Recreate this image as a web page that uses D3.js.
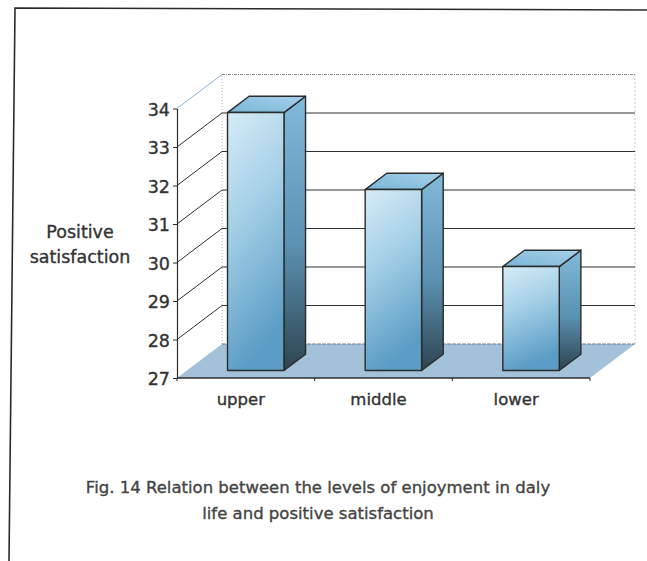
<!DOCTYPE html>
<html>
<head>
<meta charset="utf-8">
<script src="https://cdn.jsdelivr.net/npm/d3@7/dist/d3.min.js"></script>
<style>
  html, body { margin: 0; padding: 0; background: #fff; }
  svg { display: block; }
  text { font-family: "DejaVu Sans", Verdana, sans-serif; fill: #333; stroke: #333; stroke-width: 0.35px; }
</style>
</head>
<body>
<svg id="chart" width="647" height="561"></svg>
<script>
// Mean positive satisfaction by level of enjoyment in daily life
const categories = ["upper", "middle", "lower"];
const values = [33.7, 31.7, 29.7];
const yTicks = [27, 28, 29, 30, 31, 32, 33, 34];
const yTitle = ["Positive", "satisfaction"];
const caption = [
  "Fig. 14 Relation between the levels of enjoyment in daly",
  "life and positive satisfaction"
];

const svg = d3.select("#chart");

// Front plane scales; depth is projected as an oblique offset
const x = d3.scaleBand().domain(categories).range([177, 590]).paddingInner(0).paddingOuter(0);
const y = d3.scaleLinear().domain([27, 34]).range([378, 108.5]);
const depthDX = 45, depthDY = -34;
const proj = (px, v, d) => [px + d * depthDX, y(v) + d * depthDY];

const barWidthFrac = 0.41;
const barD0 = 0.22, barD1 = 0.70;

const defs = svg.append("defs");
const gradFront = defs.append("linearGradient").attr("id", "gFront")
  .attr("x1", 0).attr("y1", 0).attr("x2", 0.25).attr("y2", 1);
gradFront.append("stop").attr("offset", 0).attr("stop-color", "#d6ecf7");
gradFront.append("stop").attr("offset", 0.45).attr("stop-color", "#a3cfe6");
gradFront.append("stop").attr("offset", 1).attr("stop-color", "#5c9dc5");
const gradSide = defs.append("linearGradient").attr("id", "gSide")
  .attr("x1", 0).attr("y1", 0).attr("x2", 0).attr("y2", 1);
gradSide.append("stop").attr("offset", 0).attr("stop-color", "#82bad9");
gradSide.append("stop").attr("offset", 0.55).attr("stop-color", "#5a90b0");
gradSide.append("stop").attr("offset", 1).attr("stop-color", "#2e4450");
const gradTop = defs.append("linearGradient").attr("id", "gTop")
  .attr("x1", 0).attr("y1", 1).attr("x2", 1).attr("y2", 0);
gradTop.append("stop").attr("offset", 0).attr("stop-color", "#78b5d8");
gradTop.append("stop").attr("offset", 1).attr("stop-color", "#a6d1e9");

// Outer frame
svg.append("path")
  .attr("d", "M647,10 L15,8 L9,561")
  .attr("fill", "none").attr("stroke", "#2a2a2a").attr("stroke-width", 1.6);

const x0 = x.range()[0], x1 = x.range()[1];
const line = d3.line();

// Floor
const floorPts = [proj(x0, 27, 0), proj(x1, 27, 0), proj(x1, 27, 1), proj(x0, 27, 1)];
svg.append("path").attr("d", line(floorPts) + "Z").attr("fill", "#a3c2d9");

// Back wall and side wall outline (faint)
svg.append("path")
  .attr("d", line([proj(x0, 27, 1), proj(x0, 34, 1)]))
  .attr("stroke", "#b8b8b8").attr("stroke-dasharray", "1,2").attr("fill", "none");
svg.append("path")
  .attr("d", line([proj(x1, 27, 1), proj(x1, 34, 1)]))
  .attr("stroke", "#b9c9dc").attr("stroke-dasharray", "2,2").attr("fill", "none");
svg.append("path")
  .attr("d", line([proj(x0, 34, 1), proj(x1, 34, 1)]))
  .attr("stroke", "#8a8a8a").attr("stroke-dasharray", "3,1,1,1").attr("fill", "none");
svg.append("path")
  .attr("d", line([proj(x0, 34, 0), proj(x0, 34, 1)]))
  .attr("stroke", "#8fb6d6").attr("fill", "none");

// Gridlines: side-wall diagonals and back-wall horizontals
const gridVals = yTicks.filter(v => v > 27 && v < 34);
svg.append("g").selectAll("path").data(gridVals).join("path")
  .attr("d", v => line([proj(x0, v, 0), proj(x0, v, 1), proj(x1, v, 1)]))
  .attr("fill", "none").attr("stroke", "#2f2f2f").attr("stroke-width", 1);
// back edge of floor
svg.append("path")
  .attr("d", line([proj(x0, 27, 1), proj(x1, 27, 1)]))
  .attr("fill", "none").attr("stroke", "#6f7f8c").attr("stroke-dasharray", "4,1").attr("stroke-width", 1);

// Bars
const bars = svg.append("g").selectAll("g").data(categories.map((c, i) => ({ c, v: values[i] }))).join("g");
bars.each(function (d) {
  const g = d3.select(this);
  const cx = x(d.c) + x.bandwidth() / 2;
  const half = x.bandwidth() * barWidthFrac / 2;
  const L = cx - half, R = cx + half;
  const fbl = proj(L, 27, barD0), fbr = proj(R, 27, barD0);
  const ftl = proj(L, d.v, barD0), ftr = proj(R, d.v, barD0);
  const bbr = proj(R, 27, barD1), btr = proj(R, d.v, barD1), btl = proj(L, d.v, barD1);
  const face = (pts, fill) => g.append("path").attr("d", line(pts) + "Z").attr("fill", fill)
    .attr("stroke", "#2b2b2b").attr("stroke-width", 1.4).attr("stroke-linejoin", "round");
  face([fbr, bbr, btr, ftr], "url(#gSide)");
  face([ftl, ftr, btr, btl], "url(#gTop)");
  face([fbl, fbr, ftr, ftl], "url(#gFront)");
});

// Category axis along the front floor edge
svg.append("path")
  .attr("d", line([proj(x0, 27, 0), proj(x1, 27, 0)]))
  .attr("stroke", "#2b2b2b").attr("stroke-width", 1.4).attr("fill", "none");
const bounds = categories.map(c => x(c)).concat([x1]);
svg.append("g").selectAll("line").data(bounds).join("line")
  .attr("x1", d => d).attr("x2", d => d)
  .attr("y1", y(27)).attr("y2", y(27) + 3)
  .attr("stroke", "#2b2b2b");
svg.append("g").selectAll("text").data(categories).join("text")
  .attr("x", d => x(d) + x.bandwidth() / 2 - 5)
  .attr("y", 405)
  .attr("text-anchor", "middle")
  .attr("font-size", 16.5)
  .text(d => d);

// Value axis on the front-left edge
const yAxis = d3.axisLeft(y).tickValues(yTicks).tickSize(4).tickSizeOuter(0).tickPadding(3)
  .tickFormat(d3.format("d"));
const ya = svg.append("g").attr("transform", `translate(${x0},0)`).call(yAxis);
ya.select(".domain").attr("stroke", "#2b2b2b").attr("stroke-width", 1.2);
ya.selectAll(".tick line").attr("stroke", "#2b2b2b");
ya.selectAll(".tick text")
  .attr("font-family", "DejaVu Sans, Verdana, sans-serif")
  .attr("font-size", 17.5).attr("fill", "#333").attr("dy", "0.38em");

// Axis title
svg.append("g").selectAll("text").data(yTitle).join("text")
  .attr("x", 80).attr("y", (d, i) => 238 + i * 25)
  .attr("text-anchor", "middle").attr("font-size", 17.5)
  .text(d => d);

// Caption
svg.append("g").selectAll("text").data(caption).join("text")
  .attr("x", 318).attr("y", (d, i) => 493 + i * 26)
  .attr("text-anchor", "middle").attr("font-size", 16.5)
  .style("fill", "#444").style("stroke", "#444")
  .text(d => d);
</script>
</body>
</html>
